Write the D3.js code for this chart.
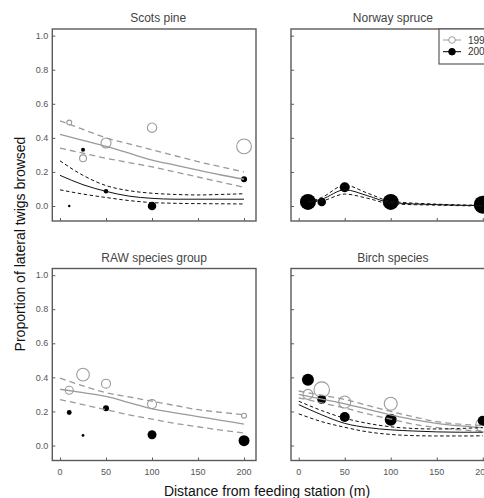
<!DOCTYPE html>
<html>
<head>
<meta charset="utf-8">
<script src="https://cdn.jsdelivr.net/npm/d3@7.9.0/dist/d3.min.js"></script>
<style>
  body { margin: 0; background: #fff; }
  svg { display: block; font-family: Arial, "Liberation Sans", sans-serif; }
</style>
</head>
<body>
<svg id="chart" width="484" height="498"></svg>
<script>
// sampled distances (m) and the x positions where fitted curves were read
const distances = [10, 25, 50, 100, 200];
const fitX = [0, 25, 50, 75, 100, 125, 150, 175, 200];
const spruceFitX = [10, 25, 50, 75, 100, 150, 200];
const xTicks = [0, 50, 100, 150, 200];
const yTicks = [0, 0.2, 0.4, 0.6, 0.8, 1.0];
const years = ['1999', '2000'];

// Scots pine
const pine99 = [0.49, 0.28, 0.37, 0.46, 0.35];
const pine99N = [6, 12, 25, 22, 54];
const pine00 = [0.0, 0.33, 0.086, 0.0, 0.157];
const pine00N = [1.5, 4, 5, 18, 9];
const pine99Fit = [0.42, 0.385, 0.35, 0.31, 0.27, 0.24, 0.21, 0.182, 0.157];
const pine99Hi = [0.50, 0.45, 0.40, 0.365, 0.33, 0.295, 0.26, 0.23, 0.20];
const pine99Lo = [0.34, 0.31, 0.28, 0.255, 0.23, 0.20, 0.17, 0.14, 0.11];
const pine00Fit = [0.18, 0.125, 0.086, 0.058, 0.045, 0.04, 0.04, 0.04, 0.04];
const pine00Hi = [0.265, 0.18, 0.12, 0.09, 0.075, 0.068, 0.065, 0.068, 0.072];
const pine00Lo = [0.095, 0.07, 0.05, 0.032, 0.02, 0.016, 0.014, 0.013, 0.012];

// Norway spruce (only 2000 shown)
const spruce00 = [0.024, 0.024, 0.11, 0.024, 0.008];
const spruce00N = [64, 18, 25, 64, 81];
const spruce00Fit = [0.024, 0.04, 0.095, 0.06, 0.02, 0.008, 0.002];
const spruce00Hi = [0.024, 0.05, 0.122, 0.075, 0.028, 0.011, 0.004];
const spruce00Lo = [0.024, 0.03, 0.07, 0.045, 0.013, 0.005, 0.0];

// RAW species group
const raw99 = [0.324, 0.416, 0.363, 0.243, 0.175];
const raw99N = [16, 40, 20, 20, 6];
const raw00 = [0.194, 0.059, 0.218, 0.063, 0.028];
const raw00N = [6, 2, 9, 20, 30];
const raw99Fit = [0.33, 0.31, 0.288, 0.252, 0.215, 0.192, 0.17, 0.148, 0.126];
const raw99Hi = [0.396, 0.35, 0.31, 0.285, 0.26, 0.235, 0.21, 0.195, 0.18];
const raw99Lo = [0.27, 0.24, 0.21, 0.18, 0.155, 0.13, 0.11, 0.09, 0.073];

// Birch species
const birch99 = [0.30, 0.328, 0.255, 0.245, 0.12];
const birch99N = [25, 60, 36, 42, 49];
const birch00 = [0.386, 0.27, 0.167, 0.151, 0.145];
const birch00N = [36, 20, 25, 36, 25];
const birch99Fit = [0.30, 0.272, 0.245, 0.212, 0.18, 0.152, 0.13, 0.115, 0.105];
const birch99Hi = [0.32, 0.295, 0.27, 0.235, 0.20, 0.168, 0.14, 0.125, 0.118];
const birch99Lo = [0.28, 0.25, 0.22, 0.185, 0.155, 0.125, 0.105, 0.092, 0.085];
const birch00Fit = [0.24, 0.18, 0.13, 0.105, 0.092, 0.085, 0.08, 0.078, 0.078];
const birch00Hi = [0.26, 0.205, 0.16, 0.13, 0.11, 0.10, 0.097, 0.10, 0.105];
const birch00Lo = [0.186, 0.14, 0.107, 0.08, 0.065, 0.058, 0.056, 0.056, 0.057];

const panels = [
  { title: 'Scots pine', col: 0, row: 0, titleDx: 4,
    p99: pine99, n99: pine99N, p00: pine00, n00: pine00N, fx: fitX,
    f99: [pine99Fit, pine99Hi, pine99Lo], f00: [pine00Fit, pine00Hi, pine00Lo] },
  { title: 'Norway spruce', col: 1, row: 0, titleDx: 0,
    p99: null, n99: null, p00: spruce00, n00: spruce00N, fx: spruceFitX,
    f99: null, f00: [spruce00Fit, spruce00Hi, spruce00Lo] },
  { title: 'RAW species group', col: 0, row: 1, titleDx: 0,
    p99: raw99, n99: raw99N, p00: raw00, n00: raw00N, fx: fitX,
    f99: [raw99Fit, raw99Hi, raw99Lo], f00: null },
  { title: 'Birch species', col: 1, row: 1, titleDx: 0,
    p99: birch99, n99: birch99N, p00: birch00, n00: birch00N, fx: fitX,
    f99: [birch99Fit, birch99Hi, birch99Lo], f00: [birch00Fit, birch00Hi, birch00Lo] }
];

const gray = '#9a9a9a';
const boxColor = '#5a5a5a';
const colX = [52.3, 291];
const rowY = [29, 268.5];
const pw = 203.7, ph = 192;

let svg = d3.select('#chart');
svg.append('rect').attr('width', 484).attr('height', 498).attr('fill', '#fff');

let rScale = d3.scaleSqrt().domain([0, 100]).range([0, 10]);

panels.forEach((p) => {
  let x0 = colX[p.col], y0 = rowY[p.row];
  let x = d3.scaleLinear().domain([-8.4, 213]).range([x0, x0 + pw]);
  let y = d3.scaleLinear().domain([-0.088, 1.039]).range([y0 + ph, y0]);
  let g = svg.append('g');

  // title
  g.append('text')
    .attr('x', x0 + pw / 2 + p.titleDx)
    .attr('y', y0 - 7)
    .attr('text-anchor', 'middle')
    .attr('font-size', 12)
    .attr('fill', '#444')
    .text(p.title);

  // inward ticks
  let yAxis = d3.axisRight(y).tickValues(yTicks).tickSize(3).tickFormat('');
  let xAxis = d3.axisTop(x).tickValues(xTicks).tickSize(3).tickFormat('');
  g.append('g').attr('transform', `translate(${x0},0)`).call(yAxis)
    .call((a) => a.select('.domain').remove())
    .selectAll('line').attr('stroke', boxColor);
  g.append('g').attr('transform', `translate(0,${y0 + ph})`).call(xAxis)
    .call((a) => a.select('.domain').remove())
    .selectAll('line').attr('stroke', boxColor);

  if (p.col === 0) {
    g.selectAll('.ylab').data(yTicks).enter().append('text')
      .attr('x', x0 - 4)
      .attr('y', (d) => y(d) + 3.2)
      .attr('text-anchor', 'end')
      .attr('font-size', 9)
      .attr('fill', '#555')
      .text((d) => d3.format('.1f')(d));
  }
  if (p.row === 1) {
    g.selectAll('.xlab').data(xTicks).enter().append('text')
      .attr('x', (d) => x(d))
      .attr('y', y0 + ph + 14.5)
      .attr('text-anchor', 'middle')
      .attr('font-size', 9)
      .attr('fill', '#555')
      .text((d) => d);
  }

  // points: open (1999) first, filled (2000) on top
  if (p.p99) {
    g.selectAll('.c99').data(p.p99).enter().append('circle')
      .attr('cx', (d, i) => x(distances[i]))
      .attr('cy', (d) => y(d))
      .attr('r', (d, i) => rScale(p.n99[i]))
      .attr('fill', '#fff')
      .attr('stroke', gray)
      .attr('stroke-width', 1.1);
  }
  if (p.p00) {
    g.selectAll('.c00').data(p.p00).enter().append('circle')
      .attr('cx', (d, i) => x(distances[i]))
      .attr('cy', (d) => y(d))
      .attr('r', (d, i) => rScale(p.n00[i]))
      .attr('fill', '#000');
  }

  // fitted curves with confidence bands
  let line = d3.line()
    .x((d) => x(d[0]))
    .y((d) => y(d[1]))
    .curve(d3.curveMonotoneX);
  let drawSet = (set, color, dash, w) => {
    set.forEach((vals, k) => {
      g.append('path')
        .attr('d', line(vals.map((v, i) => [p.fx[i], v])))
        .attr('fill', 'none')
        .attr('stroke', color)
        .attr('stroke-width', w)
        .attr('stroke-dasharray', k === 0 ? null : dash);
    });
  };
  if (p.f99) drawSet(p.f99, gray, '6,4', 1.3);
  if (p.f00) drawSet(p.f00, '#111', '3.5,2.5', 1);

  // frame
  g.append('rect')
    .attr('x', x0).attr('y', y0)
    .attr('width', pw).attr('height', ph)
    .attr('fill', 'none')
    .attr('stroke', boxColor)
    .attr('stroke-width', 1.4);
});

// legend in the Norway spruce panel
let lg = svg.append('g');
lg.append('rect')
  .attr('x', 439).attr('y', 29)
  .attr('width', 56).attr('height', 35)
  .attr('fill', '#fff')
  .attr('stroke', boxColor)
  .attr('stroke-width', 1.2);
years.forEach((yr, i) => {
  let ly = 40 + i * 11.7;
  let c = i === 0 ? gray : '#000';
  lg.append('line')
    .attr('x1', 443).attr('x2', 461)
    .attr('y1', ly).attr('y2', ly)
    .attr('stroke', c).attr('stroke-width', 1);
  lg.append('circle')
    .attr('cx', 452).attr('cy', ly).attr('r', 3.3)
    .attr('fill', i === 0 ? '#fff' : '#000')
    .attr('stroke', c);
  lg.append('text')
    .attr('x', 468).attr('y', ly + 3.5)
    .attr('font-size', 10)
    .attr('fill', '#333')
    .text(yr);
});

// shared axis titles
svg.append('text')
  .attr('transform', 'translate(25,244) rotate(-90)')
  .attr('text-anchor', 'middle')
  .attr('font-size', 14)
  .attr('fill', '#111')
  .text('Proportion of lateral twigs browsed');
svg.append('text')
  .attr('x', 267)
  .attr('y', 496)
  .attr('text-anchor', 'middle')
  .attr('font-size', 14)
  .attr('fill', '#111')
  .text('Distance from feeding station (m)');
</script>
</body>
</html>
